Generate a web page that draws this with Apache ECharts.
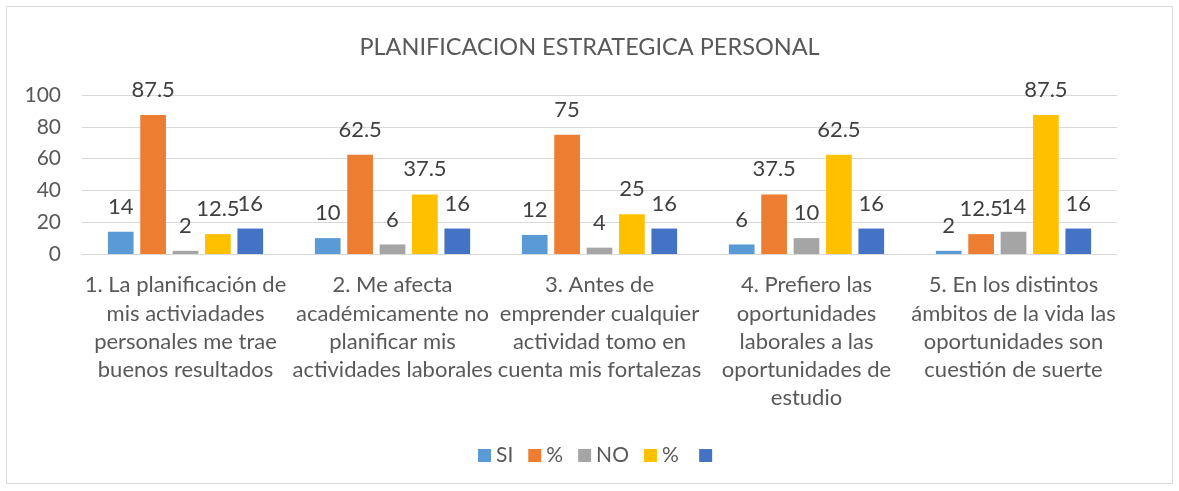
<!DOCTYPE html>
<html><head><meta charset="utf-8">
<script src="https://cdn.jsdelivr.net/npm/echarts@6/dist/echarts.min.js"></script>
<style>html,body{margin:0;padding:0;background:#fff}#c{width:1179px;height:491px}</style>
</head><body><div id="c"></div>
<script>
const categories = [
  "1. La planificación de\nmis activiadades\npersonales me trae\nbuenos resultados",
  "2. Me afecta\nacadémicamente no\nplanificar mis\nactividades laborales",
  "3. Antes de\nemprender cualquier\nactividad tomo en\ncuenta mis fortalezas",
  "4. Prefiero las\noportunidades\nlaborales a las\noportunidades de\nestudio",
  "5. En los distintos\námbitos de la vida las\noportunidades son\ncuestión de suerte"
];
const seriesNames = ["SI", "%", "NO", "% ", "\u00A0"];
const siValues = [14, 10, 12, 6, 2];
const siPct = [87.5, 62.5, 75, 37.5, 12.5];
const noValues = [2, 6, 4, 10, 14];
const noPct = [12.5, 37.5, 25, 62.5, 87.5];
const totalValues = [16, 16, 16, 16, 16];
const yTicks = [0, 20, 40, 60, 80, 100];
const colors = ["#5B9BD5", "#ED7D31", "#A5A5A5", "#FFC000", "#4472C4"];
const allData = [siValues, siPct, noValues, noPct, totalValues];

const font = "Lato, 'Open Sans', sans-serif";
const chart = echarts.init(document.getElementById('c'));
chart.setOption({
  animation: false,
  color: colors,
  title: {
    text: "PLANIFICACION ESTRATEGICA PERSONAL",
    left: 'center', top: 30,
    textStyle: {fontFamily: font, fontSize: 23.5, fontWeight: 'normal', color: '#595959'}
  },
  graphic: [{type: 'rect', shape: {x: 6.5, y: 6.5, width: 1166, height: 477},
    style: {fill: 'none', stroke: '#D9D9D9', lineWidth: 1}}],
  legend: {
    bottom: 20, left: 473, itemWidth: 13, itemHeight: 13, itemGap: 15,
    icon: 'rect',
    data: seriesNames,
    textStyle: {fontFamily: font, fontSize: 21, color: '#595959'}
  },
  grid: {left: 82, right: 62, top: 95, bottom: 237, containLabel: false},
  xAxis: {
    type: 'category', data: categories,
    axisLine: {lineStyle: {color: '#D9D9D9'}},
    axisTick: {show: false},
    axisLabel: {interval: 0, margin: 17, fontFamily: font, fontSize: 22, lineHeight: 28.3, color: '#595959'}
  },
  yAxis: {
    type: 'value', min: 0, max: 100, interval: 20,
    axisLabel: {fontFamily: font, fontSize: 21, color: '#595959', margin: 21,
      formatter: v => yTicks.includes(v) ? String(v) : ''},
    splitLine: {lineStyle: {color: '#D9D9D9'}},
    axisLine: {show: false}, axisTick: {show: false}
  },
  series: seriesNames.map((n, i) => ({
    name: n, type: 'bar', data: allData[i],
    barGap: '26%', barCategoryGap: '25%',
    label: {show: true, position: 'top', distance: 14, fontFamily: font, fontSize: 22, color: '#404040'}
  }))
});
</script></body></html>
